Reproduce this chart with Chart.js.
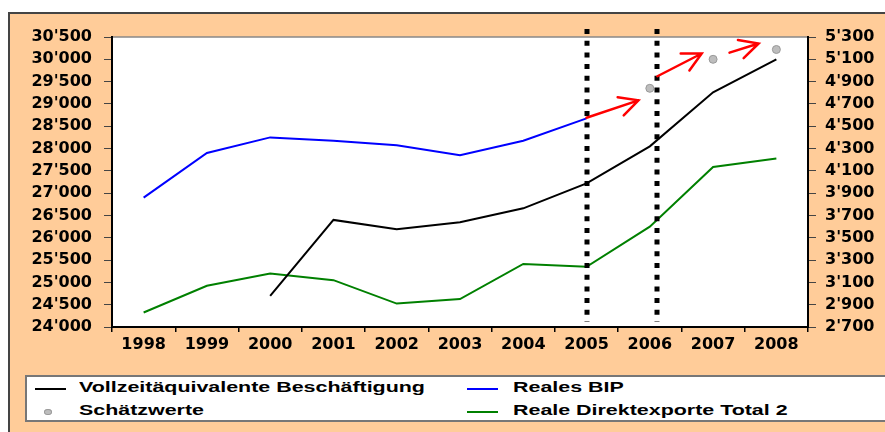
<!DOCTYPE html>
<html>
<head>
<meta charset="utf-8">
<script src="https://cdn.jsdelivr.net/npm/chart.js@4.4.1/dist/chart.umd.min.js"></script>
<style>
    html, body { margin: 0; padding: 0; background: #fff; }
    #wrap { position: relative; width: 885px; height: 432px; overflow: hidden; }
    #frame {
        position: absolute; left: 8px; top: 12px; width: 900px; height: 440px;
        background: #FFCC99; border: 2px solid #444; box-sizing: border-box;
    }
    #chart { position: absolute; left: 0; top: 0; }
    #legend {
        position: absolute; left: 25px; top: 375px; width: 880px; height: 47px;
        background: #fff; border: 2px solid #777; box-sizing: border-box;
    }
    .item { position: absolute; height: 20px; width: 420px; }
    .sample { position: absolute; top: 9px; width: 31px; height: 2px; }
    .dot { position: absolute; top: 7px; width: 8px; height: 6px; border-radius: 50%; }
    .label {
        position: absolute; top: 0; line-height: 20px; white-space: nowrap;
        font: bold 14px 'Liberation Sans', Arial, sans-serif; color: #000;
        transform: scaleX(1.53); transform-origin: left center;
    }
</style>
</head>
<body>
<div id="wrap">
    <div id="frame"></div>
    <canvas id="chart" width="885" height="432"></canvas>
    <div id="legend"></div>
</div>
<script>
// Years on the x axis
const years = ['1998', '1999', '2000', '2001', '2002', '2003', '2004', '2005', '2006', '2007', '2008'];

// Left axis: full-time equivalents
const employment = [null, null, 24700, 26400, 26190, 26350, 26660, 27220, 28050, 29260, 30000];
const estimates = [null, null, null, null, null, null, null, null, 29350, 30000, 30220];

// Right axis
const realGdp = [3860, 4260, 4400, 4370, 4330, 4240, 4370, 4570, null, null, null];
const realExports = [2830, 3070, 3180, 3120, 2910, 2950, 3265, 3240, 3600, 4135, 4210];

// Axis ranges
const leftRange = [24000, 30500, 500];
const rightRange = [2700, 5300, 200];

// Dotted separators (category index) and red trend arrows (index, left axis value)
const markers = [7, 8.12];
const arrows = [
    { from: [7, 28690], to: [7.82, 29080] },
    { from: [8.12, 29620], to: [8.82, 30130] },
    { from: [9.26, 30150], to: [9.72, 30355] }
];

const tickFont = { family: 'DejaVu Sans', weight: 'bold', size: 16 };

function swissNumber(v) {
    return String(v).replace(/\B(?=(\d{3})+(?!\d))/g, "'");
}

// White plot area with a thin grey top edge
const plotBackground = {
    id: 'plotBackground',
    beforeDraw(chart) {
        const { ctx, chartArea: a } = chart;
        ctx.save();
        ctx.fillStyle = '#fff';
        ctx.fillRect(a.left, a.top, a.right - a.left, a.bottom - a.top);
        ctx.strokeStyle = '#888';
        ctx.lineWidth = 1.5;
        ctx.beginPath();
        ctx.moveTo(a.left, a.top);
        ctx.lineTo(a.right, a.top);
        ctx.stroke();
        ctx.restore();
    }
};

// Dotted separators and the arrows
const overlays = {
    id: 'overlays',
    afterDatasetsDraw(chart) {
        const { ctx, chartArea: a, scales } = chart;
        const x = scales.x, y = scales.y;
        ctx.save();
        ctx.strokeStyle = '#000';
        ctx.lineWidth = 5;
        ctx.setLineDash([5, 6.7]);
        markers.forEach(m => {
            const px = Math.round(x.getPixelForValue(m));
            ctx.beginPath();
            ctx.moveTo(px, a.top - 8);
            ctx.lineTo(px, a.bottom - 5);
            ctx.stroke();
        });
        ctx.setLineDash([]);

        ctx.strokeStyle = '#FF0000';
        ctx.lineWidth = 2.5;
        ctx.lineCap = 'round';
        arrows.forEach(arr => {
            const x0 = x.getPixelForValue(arr.from[0]), y0 = y.getPixelForValue(arr.from[1]);
            const x1 = x.getPixelForValue(arr.to[0]), y1 = y.getPixelForValue(arr.to[1]);
            const ang = Math.atan2(y1 - y0, x1 - x0);
            const head = 21, spread = 27 * Math.PI / 180;
            ctx.beginPath();
            ctx.moveTo(x0, y0);
            ctx.lineTo(x1, y1);
            ctx.moveTo(x1 - head * Math.cos(ang - spread), y1 - head * Math.sin(ang - spread));
            ctx.lineTo(x1, y1);
            ctx.lineTo(x1 - head * Math.cos(ang + spread), y1 - head * Math.sin(ang + spread));
            ctx.stroke();
        });
        ctx.restore();
    }
};

const chart = new Chart(document.getElementById('chart'), {
    type: 'line',
    data: {
        labels: years,
        datasets: [
            {
                label: 'Vollzeitäquivalente Beschäftigung',
                data: employment,
                yAxisID: 'y',
                borderColor: '#000',
                borderWidth: 2,
                pointRadius: 0
            },
            {
                label: 'Reales BIP',
                data: realGdp,
                yAxisID: 'y1',
                borderColor: '#0000FF',
                borderWidth: 2,
                pointRadius: 0
            },
            {
                label: 'Schätzwerte',
                data: estimates,
                yAxisID: 'y',
                showLine: false,
                pointRadius: 4,
                backgroundColor: '#BDBDBD',
                borderColor: '#9A9A9A',
                borderWidth: 1
            },
            {
                label: 'Reale Direktexporte Total 2',
                data: realExports,
                yAxisID: 'y1',
                borderColor: '#008000',
                borderWidth: 2,
                pointRadius: 0
            }
        ]
    },
    options: {
        responsive: false,
        animation: false,
        devicePixelRatio: 1,
        layout: { padding: { top: 37, left: 0, right: 0, bottom: 0 } },
        plugins: {
            legend: { display: false },
            tooltip: { enabled: false }
        },
        scales: {
            x: {
                offset: true,
                grid: { offset: true, drawOnChartArea: false, tickLength: 5, color: '#000', lineWidth: 1.5 },
                border: { color: '#000', width: 2 },
                ticks: { color: '#000', font: tickFont, padding: 3, maxRotation: 0 },
                afterFit: s => { s.height = 105; }
            },
            y: {
                position: 'left',
                min: leftRange[0],
                max: leftRange[1],
                grid: { drawOnChartArea: false, tickLength: 8, color: '#444' },
                border: { color: '#000', width: 2 },
                ticks: { stepSize: leftRange[2], color: '#000', font: tickFont, padding: 12, callback: swissNumber },
                afterFit: s => { s.width = 112; }
            },
            y1: {
                position: 'right',
                min: rightRange[0],
                max: rightRange[1],
                grid: { drawOnChartArea: false, tickLength: 8, color: '#444' },
                border: { color: '#000', width: 2 },
                ticks: { stepSize: rightRange[2], color: '#000', font: tickFont, padding: 9, callback: swissNumber },
                afterFit: s => { s.width = 77; }
            }
        }
    },
    plugins: [plotBackground, overlays]
});

// Two-column legend below the chart, built from the datasets
const legendEl = document.getElementById('legend');
chart.data.datasets.forEach((ds, i) => {
    const item = document.createElement('div');
    item.className = 'item';
    item.style.left = (i % 2 ? 440 : 8) + 'px';
    item.style.top = (i < 2 ? 1.5 : 24.5) + 'px';
    const mark = document.createElement('span');
    if (ds.showLine === false) {
        mark.className = 'dot';
        mark.style.left = '9px';
        mark.style.background = ds.backgroundColor;
        mark.style.boxShadow = '0 0 0 1px ' + ds.borderColor + ' inset';
    } else {
        mark.className = 'sample';
        mark.style.left = '0';
        mark.style.background = ds.borderColor;
    }
    const text = document.createElement('span');
    text.className = 'label';
    text.style.left = (i % 2 ? 46 : 44) + 'px';
    text.textContent = ds.label;
    item.appendChild(mark);
    item.appendChild(text);
    legendEl.appendChild(item);
});
</script>
</body>
</html>
